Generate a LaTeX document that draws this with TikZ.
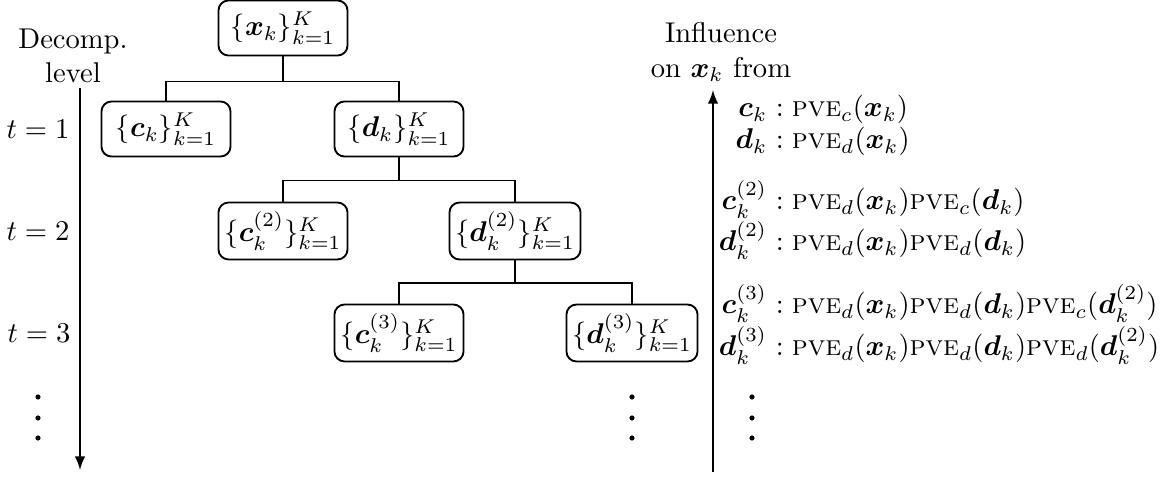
\documentclass[tikz,border=0pt]{standalone}
\usepackage{amsmath,amssymb}
\usepackage{tikz}
\usetikzlibrary{calc}

\newcommand{\vx}{\boldsymbol{x}}
\newcommand{\vc}{\boldsymbol{c}}
\newcommand{\vd}{\boldsymbol{d}}
\newcommand{\pve}{\text{\textsc{pve}}}

\begin{document}
\begin{tikzpicture}[x=0.0123cm, y=-0.0123cm, line width=0.65pt]
        % Define the styles for the coefficient sets and the influence rows
        \tikzstyle{setbox}=[draw, rounded corners=3.5pt, minimum width=1.587cm, minimum height=0.677cm, inner sep=2pt];
        \tikzstyle{lhs}=[anchor=base east, inner sep=0pt];
        \tikzstyle{rhs}=[anchor=base west, inner sep=0pt];
        \useasboundingbox (0,0) rectangle (1165,479);

        % Decomposition tree
        \node[setbox] (root) at (283,28) {$\{\vx_k\}_{k=1}^K$};
        \node[setbox] (c1) at (166,129) {$\{\vc_k\}_{k=1}^K$};
        \node[setbox] (d1) at (399,129) {$\{\vd_k\}_{k=1}^K$};
        \node[setbox, minimum height=0.7cm] (c2) at (283,231) {$\{\vc_k^{(2)}\}_{k=1}^K$};
        \node[setbox, minimum height=0.7cm] (d2) at (515,231) {$\{\vd_k^{(2)}\}_{k=1}^K$};
        \node[setbox, minimum height=0.7cm] (c3) at (399,333) {$\{\vc_k^{(3)}\}_{k=1}^K$};
        \node[setbox, minimum height=0.7cm] (d3) at (632,333) {$\{\vd_k^{(3)}\}_{k=1}^K$};

        % Forks between the levels
        \draw (root.south) -- ++(0,25) coordinate (f1);
        \draw (c1.north) |- (f1) -| (d1.north);
        \draw (d1.south) -- ++(0,23) coordinate (f2);
        \draw (c2.north) |- (f2) -| (d2.north);
        \draw (d2.south) -- ++(0,23) coordinate (f3);
        \draw (c3.north) |- (f3) -| (d3.north);
        \foreach \y in {397,418,438}
            \fill (632,\y) circle (0.9pt);

        % Level axis on the left
        \node[align=center] (level) at (73,56) {Decomp.\\level};
        \coordinate (ltop) at (80,88);
        \coordinate (lbot) at (80,470);
        \draw[-latex] (ltop) -- (lbot);
        \node (t1) at (38,129) {$t=1$};
        \node (t2) at (38,231) {$t=2$};
        \node (t3) at (39,333) {$t=3$};
        \foreach \y in {397,418,438}
            \fill (38,\y) circle (0.9pt);

        % Influence axis on the right
        \node[align=center] (infl) at (721,52) {Influence\\on $\vx_k$ from};
        \coordinate (rbot) at (713,472);
        \coordinate (rtop) at (713,90);
        \draw[-latex] (rbot) -- (rtop);

        \node[lhs] (lc1) at (768,117) {$\vc_k$};
        \node[rhs] (rc1) at (775,117) {$:\pve_c(\vx_k)$};
        \node[lhs] (ld1) at (768,149) {$\vd_k$};
        \node[rhs] (rd1) at (775,149) {$:\pve_d(\vx_k)$};
        \node[lhs] (lc2) at (768,210) {$\vc_k^{(2)}$};
        \node[rhs] (rc2) at (775,210) {$:\pve_d(\vx_k)\pve_c(\vd_k)$};
        \node[lhs] (ld2) at (768,251) {$\vd_k^{(2)}$};
        \node[rhs] (rd2) at (775,251) {$:\pve_d(\vx_k)\pve_d(\vd_k)$};
        \node[lhs] (lc3) at (768,314) {$\vc_k^{(3)}$};
        \node[rhs] (rc3) at (775,314) {$:\pve_d(\vx_k)\pve_d(\vd_k)\pve_c(\vd_k^{(2)})$};
        \node[lhs] (ld3) at (768,356) {$\vd_k^{(3)}$};
        \node[rhs] (rd3) at (775,356) {$:\pve_d(\vx_k)\pve_d(\vd_k)\pve_d(\vd_k^{(2)})$};
        \foreach \y in {397,418,438}
            \fill (752,\y) circle (0.9pt);
\end{tikzpicture}
\end{document}
